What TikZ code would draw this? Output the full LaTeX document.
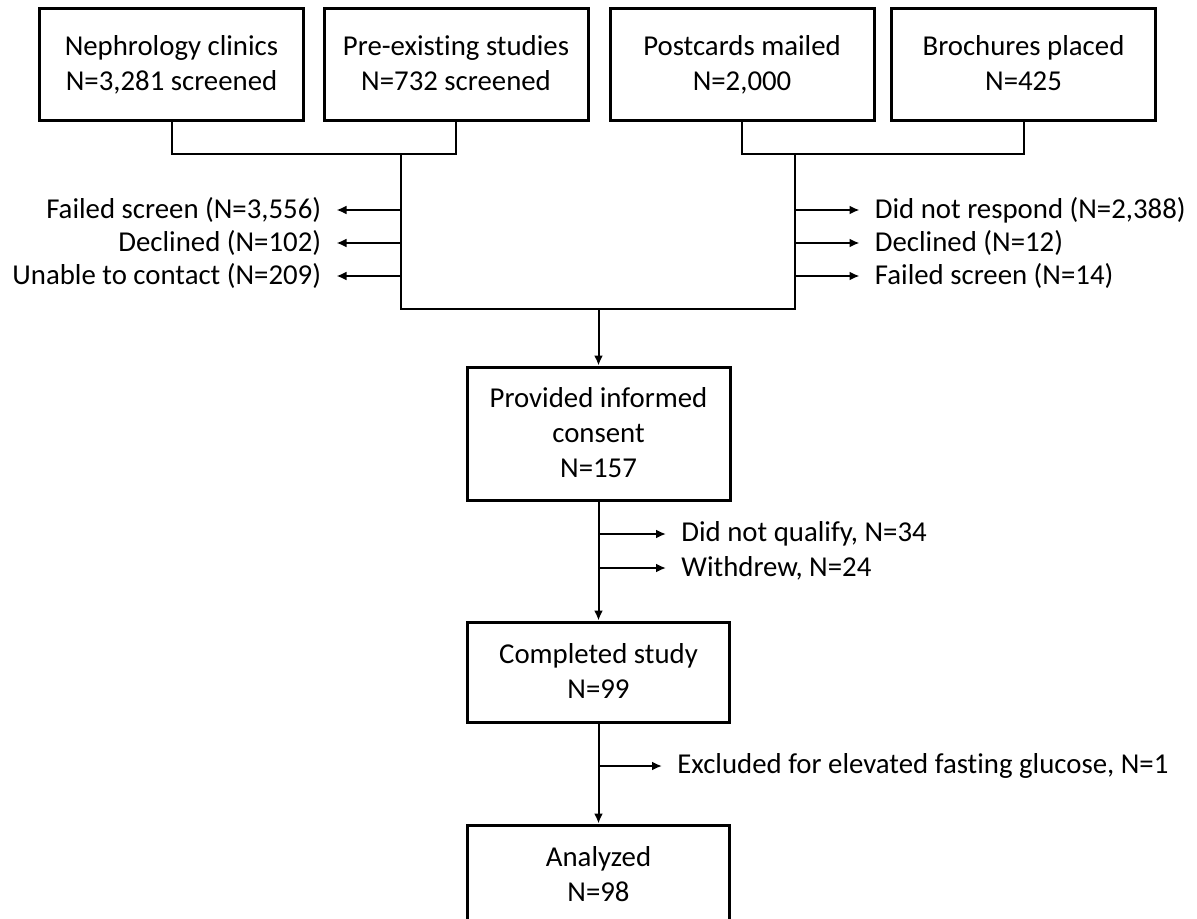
\documentclass[tikz,border=0pt]{standalone}
\usepackage{fontspec}
\setmainfont{Carlito}[Ligatures=NoCommon]
\usetikzlibrary{arrows.meta, positioning}

\begin{document}
\begin{tikzpicture}[x=0.5pt, y=-0.5pt, font=\fontsize{14.4}{17.5}\selectfont,
    box/.style={draw, line width=1.5pt, align=center, minimum width=132pt, inner sep=0pt,
        execute at begin node={\rule{0pt}{16.5pt}}, execute at end node={\rule[-1.5pt]{0pt}{1.5pt}}},
    link/.style={line width=1pt},
    arr/.style={line width=1pt, -{Latex[length=5pt,width=4.5pt]}, shorten >=7.5pt},
    down/.style={line width=1pt, -{Latex[length=5pt,width=4.5pt]}},
    lbl/.style={inner sep=0pt}]
        \clip (0,0) rectangle (1197,919);
        % Sources
        \node[box, minimum height=56pt] (clinics) at (171.5,65) {Nephrology clinics\\N=3,281 screened};
        \node[box, minimum height=56pt] (studies) at (456,65) {Pre-existing studies\\N=732 screened};
        \node[box, minimum height=56pt] (postcards) at (742,65) {Postcards mailed\\N=2,000};
        \node[box, minimum height=56pt] (brochures) at (1023.5,65) {Brochures placed\\N=425};
        % Junctions
        \coordinate (jL) at (401,154);
        \coordinate (jR) at (795,154);
        \coordinate (bL) at (401,309);
        \coordinate (bR) at (795,309);
        \coordinate (bM) at (598.5,309);
        \draw[link] (clinics.south) |- (jL) -| (studies.south);
        \draw[link] (postcards.south) |- (jR) -| (brochures.south);
        \draw[link] (jL) -- (bL) -- (bR) -- (jR);
        % Exclusions, left
        \node[lbl, anchor=east] (failL) at (321.5,210) {Failed screen (N=3,556)};
        \node[lbl, anchor=east] (declL) at (321.5,243) {Declined (N=102)};
        \node[lbl, anchor=east] (contL) at (321.5,276) {Unable to contact (N=209)};
        \draw[arr] (bL |- failL) -- (failL.east);
        \draw[arr] (bL |- declL) -- (declL.east);
        \draw[arr] (bL |- contL) -- (contL.east);
        % Exclusions, right
        \node[lbl, anchor=west] (respR) at (874.5,210) {Did not respond (N=2,388)};
        \node[lbl, anchor=west] (declR) at (874.5,243) {Declined (N=12)};
        \node[lbl, anchor=west] (failR) at (874.5,276) {Failed screen (N=14)};
        \draw[arr] (bR |- respR) -- (respR.west);
        \draw[arr] (bR |- declR) -- (declR.west);
        \draw[arr] (bR |- failR) -- (failR.west);
        % Study
        \node[box, minimum width=131.5pt, minimum height=66.5pt] (consent) at (598.5,433.5) {Provided informed\\consent\\N=157};
        \node[box, minimum width=131pt, minimum height=50pt] (completed) at (598.5,672) {Completed study\\N=99};
        \node[box, minimum width=131pt, minimum height=50pt] (analyzed) at (598.5,875) {Analyzed\\N=98};
        \draw[down] (bM) -- (consent);
        \draw[down] (consent) -- (completed);
        \draw[down] (completed) -- (analyzed);
        \node[lbl, anchor=west] (qualify) at (681,534) {Did not qualify, N=34};
        \node[lbl, anchor=west] (withdrew) at (681,568) {Withdrew, N=24};
        \node[lbl, anchor=west] (glucose) at (677,766) {Excluded for elevated fasting glucose, N=1};
        \draw[arr] (consent.south |- qualify) -- (qualify.west);
        \draw[arr] (consent.south |- withdrew) -- (withdrew.west);
        \draw[arr] (completed.south |- glucose) -- (glucose.west);
\end{tikzpicture}
\end{document}
